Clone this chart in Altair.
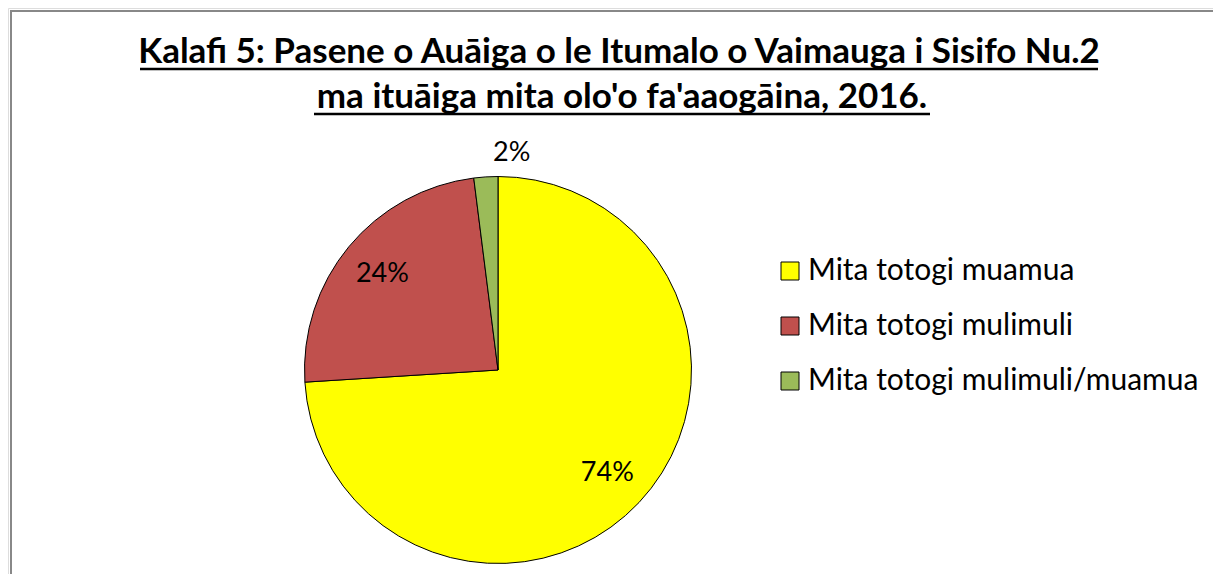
import altair as alt
import pandas as pd

# ---- data ----
categories = ["Mita totogi muamua", "Mita totogi mulimuli", "Mita totogi mulimuli/muamua"]
shares = [74, 24, 2]
colors = ["#FFFF00", "#C0504D", "#9BBB59"]
title_lines = [
    "Kalafi 5: Pasene o Auāiga o le Itumalo o Vaimauga i Sisifo Nu.2",
    "ma ituāiga mita olo'o fa'aaogāina, 2016.",
]

df = pd.DataFrame({
    "cat": categories,
    "share": shares,
    "order": list(range(len(categories))),
})
df["label"] = df["share"].astype(str) + "%"

W, H = 1205, 566
CX, CY, R = 490, 362, 193.5
FONT = "Lato"

color = alt.Color(
    "cat:N",
    scale=alt.Scale(domain=categories, range=colors),
    sort=categories,
    legend=alt.Legend(
        title=None,
        orient="none",
        legendX=767,
        legendY=248,
        symbolType="square",
        symbolSize=324,
        symbolStrokeColor="black",
        symbolStrokeWidth=1,
        labelFont=FONT,
        labelFontSize=30,
        labelColor="black",
        labelOffset=3,
        rowPadding=25,
        padding=0,
        symbolOffset=0,
        labelLimit=600,
    ),
)

base = alt.Chart(df).encode(
    theta=alt.Theta("share:Q", stack=True),
    order=alt.Order("order:Q"),
)

pie = base.mark_arc(radius=R, stroke="black", strokeWidth=1).encode(
    color=color,
    x=alt.value(CX),
    y=alt.value(CY),
)

lab_in = base.transform_filter("datum.share >= 5").mark_text(
    radius=150, font=FONT, fontSize=27, color="black", align="center", baseline="middle"
).encode(text="label:N", x=alt.value(CX), y=alt.value(CY))

lab_out = base.transform_filter("datum.share < 5").mark_text(
    radius=217, font=FONT, fontSize=27, color="black", align="center", baseline="middle"
).encode(text="label:N", x=alt.value(CX), y=alt.value(CY))

tdf = pd.DataFrame({"t": title_lines, "row": [0, 1]})
t1 = alt.Chart(tdf).transform_filter("datum.row == 0").mark_text(
    font=FONT, fontSize=35, fontWeight="bold", color="black", align="center", baseline="alphabetic"
).encode(text="t:N", x=alt.value(611), y=alt.value(55))
t2 = alt.Chart(tdf).transform_filter("datum.row == 1").mark_text(
    font=FONT, fontSize=35, fontWeight="bold", color="black", align="center", baseline="alphabetic"
).encode(text="t:N", x=alt.value(614), y=alt.value(100))

one = pd.DataFrame({"k": [0]})
u1 = alt.Chart(one).mark_rule(color="black", strokeWidth=2.5).encode(
    x=alt.value(132), x2=alt.value(1090), y=alt.value(61))
u2 = alt.Chart(one).mark_rule(color="black", strokeWidth=2.5).encode(
    x=alt.value(306), x2=alt.value(922), y=alt.value(106))
fl = alt.Chart(one).mark_rule(color="#888888", strokeWidth=2).encode(
    x=alt.value(3), y=alt.value(3), y2=alt.value(H))
ft = alt.Chart(one).mark_rule(color="#888888", strokeWidth=2).encode(
    x=alt.value(2), x2=alt.value(W), y=alt.value(3))

chart = alt.layer(fl, ft, pie, lab_in, lab_out, t1, t2, u1, u2).properties(
    width=W, height=H, padding=0,
    autosize=alt.AutoSizeParams(type="none"),
).configure_view(stroke=None).configure(background="white")

chart.save("out.html", embed_options={"renderer": "svg", "actions": False})
